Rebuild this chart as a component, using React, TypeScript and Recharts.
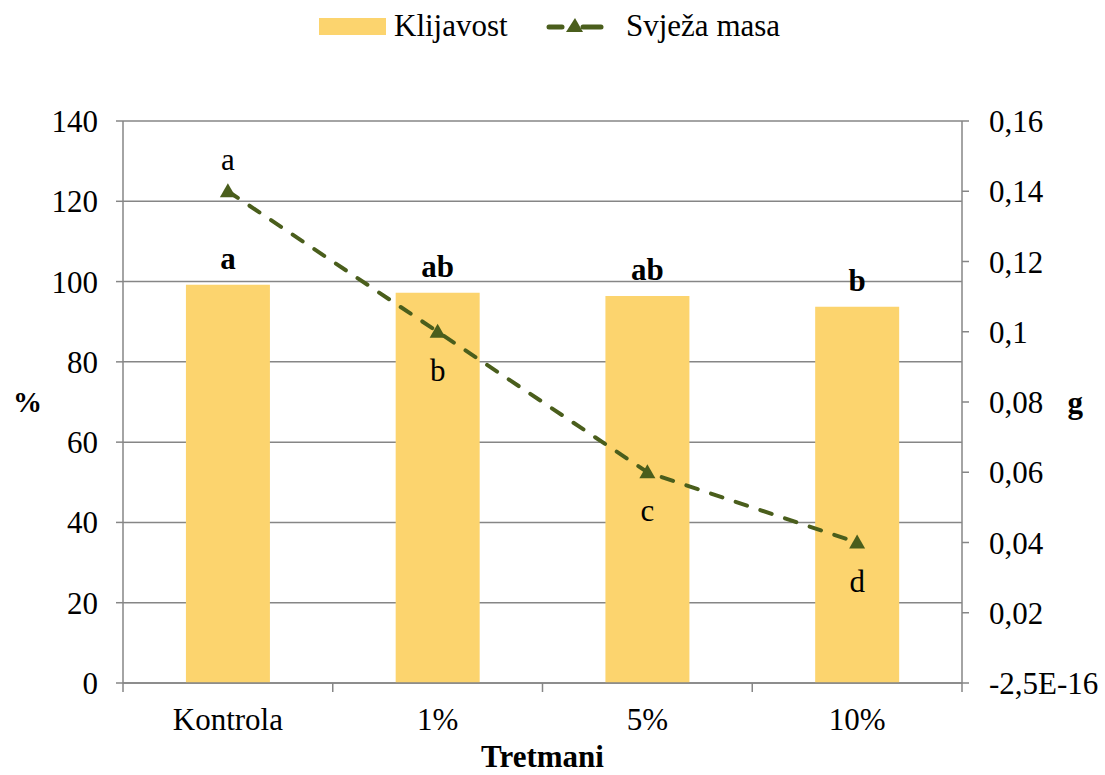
import { Bar, CartesianGrid, ComposedChart, LabelList, Line, XAxis, YAxis } from 'recharts';

const treatments = ['Kontrola', '1%', '5%', '10%'];
const germination = [99.2, 97.2, 96.4, 93.7];
const freshMass = [0.14, 0.1, 0.06, 0.04];
const germinationLetters = ['a', 'ab', 'ab', 'b'];
const massLetters = ['a', 'b', 'c', 'd'];
const percentTicks = [0, 20, 40, 60, 80, 100, 120, 140];
const massTicks = [0, 0.02, 0.04, 0.06, 0.08, 0.1, 0.12, 0.14, 0.16];

const data = treatments.map((name, i) => ({
  name,
  klijavost: germination[i],
  masa: freshMass[i],
  barLetter: germinationLetters[i],
  lineLetter: massLetters[i],
}));

const FONT = '"Liberation Serif", "Times New Roman", serif';
const FS = 31;
const BAR_COLOR = '#FCD46E';
const LINE_COLOR = '#4A5E1C';
const AXIS_COLOR = '#868686';

function formatMass(v: number) {
  if (v === 0) return '-2,5E-16';
  return String(Number(v.toFixed(2))).replace('.', ',');
}

function CategoryTick(props: any) {
  const { x, y, payload, index, visibleTicksCount, width } = props;
  const band = (width ?? 839) / (visibleTicksCount ?? 4);
  return (
    <g>
      <line x1={x - band / 2} x2={x - band / 2} y1={y} y2={y + 9} stroke={AXIS_COLOR} strokeWidth={1.5} />
      {index === visibleTicksCount - 1 ? (
        <line x1={x + band / 2} x2={x + band / 2} y1={y} y2={y + 9} stroke={AXIS_COLOR} strokeWidth={1.5} />
      ) : null}
      <text x={x} y={y + 47} textAnchor="middle" fontSize={FS} fontFamily={FONT} fill="#000">
        {payload.value}
      </text>
    </g>
  );
}

function Triangle({ cx, cy }: { cx?: number; cy?: number }) {
  if (cx == null || cy == null) return null;
  return <path d={`M${cx},${cy - 8} L${cx + 8},${cy + 6} L${cx - 8},${cy + 6} Z`} fill={LINE_COLOR} />;
}

function MassLetter(props: any) {
  const { x, y, value, index } = props;
  const above = index === 0;
  return (
    <text x={x} y={above ? y - 21 : y + 49} textAnchor="middle" fontSize={FS} fontFamily={FONT} fill="#000">
      {value}
    </text>
  );
}

function LegendBox() {
  return (
    <div style={{ position: 'absolute', left: 0, top: 0, width: 1105, height: 60, fontFamily: FONT, fontSize: FS }}>
      <div style={{ position: 'absolute', left: 319, top: 18, width: 67, height: 17, background: BAR_COLOR }} />
      <span style={{ position: 'absolute', left: 394, top: 10, lineHeight: `${FS}px` }}>Klijavost</span>
      <svg style={{ position: 'absolute', left: 545, top: 15 }} width={62} height={24}>
        <line x1={4} x2={17} y1={12} y2={12} stroke={LINE_COLOR} strokeWidth={5} strokeLinecap="round" />
        <line x1={38} x2={56} y1={12} y2={12} stroke={LINE_COLOR} strokeWidth={5} strokeLinecap="round" />
        <path d="M30,3 L38,17 L21,17 Z" fill={LINE_COLOR} />
      </svg>
      <span style={{ position: 'absolute', left: 626, top: 10, lineHeight: `${FS}px` }}>Svježa masa</span>
    </div>
  );
}

export default function App() {
  return (
    <div style={{ position: 'absolute', left: 0, top: 0, width: 1105, height: 775, background: '#fff' }}>
      <LegendBox />
      <ComposedChart
        width={1105}
        height={775}
        data={data}
        margin={{ top: 121, right: 0, bottom: 0, left: 13 }}
        barCategoryGap="30%"
      >
        <CartesianGrid yAxisId="left" vertical={false} stroke={AXIS_COLOR} strokeWidth={1.5} />
        <XAxis
          dataKey="name"
          height={92}
          stroke={AXIS_COLOR}
          strokeWidth={1.5}
          tickLine={false}
          tickSize={0}
          tickMargin={0}
          tick={<CategoryTick />}
          interval={0}
          label={{ value: 'Tretmani', position: 'insideBottom', offset: 8, fontSize: FS, fontWeight: 'bold', fontFamily: FONT, fill: '#000' }}
        />
        <YAxis
          yAxisId="left"
          width={110}
          domain={[0, 140]}
          ticks={percentTicks}
          stroke={AXIS_COLOR}
          strokeWidth={1.5}
          tickSize={7}
          tickMargin={18}
          tick={{ fontSize: FS, fontFamily: FONT, fill: '#000' }}
          label={{ value: '%', position: 'insideLeft', offset: 0, fontSize: 29, fontWeight: 'bold', fontFamily: FONT, fill: '#000' }}
        />
        <YAxis
          yAxisId="right"
          orientation="right"
          width={143}
          domain={[0, 0.16]}
          ticks={massTicks}
          tickFormatter={formatMass}
          stroke={AXIS_COLOR}
          strokeWidth={1.5}
          tickSize={7}
          tickMargin={20}
          tick={{ fontSize: FS, fontFamily: FONT, fill: '#000' }}
          label={{ value: 'g', position: 'insideRight', offset: 22, fontSize: FS, fontWeight: 'bold', fontFamily: FONT, fill: '#000' }}
        />
        <Bar yAxisId="left" dataKey="klijavost" fill={BAR_COLOR} isAnimationActive={false}>
          <LabelList dataKey="barLetter" position="top" offset={16} fontSize={FS} fontWeight="bold" fontFamily={FONT} fill="#000" />
        </Bar>
        <Line
          yAxisId="right"
          dataKey="masa"
          stroke={LINE_COLOR}
          strokeWidth={4}
          strokeDasharray="12 14"
          strokeLinecap="round"
          dot={<Triangle />}
          activeDot={false}
          isAnimationActive={false}
        >
          <LabelList dataKey="lineLetter" content={<MassLetter />} />
        </Line>
      </ComposedChart>
    </div>
  );
}
